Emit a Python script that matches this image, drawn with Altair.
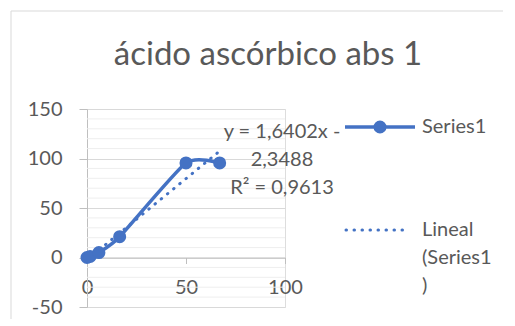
import altair as alt
import pandas as pd

# ---- data ----
x_vals = [0, 1.56, 6.0, 16.5, 50, 67]
y_vals = [0, 1, 5, 21, 95.5, 95.5]
series_name = "Series1"
trend_name = "Lineal (Series1 )"
slope = 1.6402
intercept = -2.3488
r2 = 0.9613
x_ticks = [0, 50, 100]
y_ticks = [-50, 0, 50, 100, 150]
minor_grid = [v for v in range(-40, 150, 10) if v % 50 != 0]
title_text = "ácido ascórbico abs 1"
eq_lines = ["y = 1,6402x -", "2,3488", "R² = 0,9613"]
trend_lines = ["Lineal", "(Series1", ")"]

FONT = "Lato"
BLUE = "#4472C4"
TXT = "#595959"

pts = pd.DataFrame({"x": x_vals, "y": y_vals})
xmin, xmax = min(x_vals), max(x_vals)
trend = pd.DataFrame({"x": [xmin, xmax],
                      "y": [slope * xmin + intercept, slope * xmax + intercept]})
minor = pd.DataFrame({"v": minor_grid})

W, H = 198, 198
xs = alt.Scale(domain=[0, 100], nice=False, zero=False)
ys = alt.Scale(domain=[-50, 150], nice=False, zero=False)

xaxis = alt.Axis(values=x_ticks, offset=-49.5, grid=False, domainColor="#bfbfbf",
                 tickColor="#bfbfbf", tickSize=6, labelPadding=14, labelFontSize=20,
                 labelFont=FONT, labelColor=TXT, title=None, labelFlush=False,
                 labelExpr="'' + datum.value")
yaxis = alt.Axis(values=y_ticks, grid=True, gridColor="#d9d9d9", domainColor="#bfbfbf",
                 tickColor="#bfbfbf", tickSize=8, labelPadding=17, labelFontSize=20,
                 labelFont=FONT, labelColor=TXT, title=None,
                 labelExpr="'' + datum.value")

border = alt.Chart(pd.DataFrame({"a": [0]})).mark_rect(
    fill=None, stroke="#d9d9d9", strokeWidth=1
).encode(x=alt.value(-76), x2=alt.value(700), y=alt.value(-98), y2=alt.value(500))

title = alt.Chart(pd.DataFrame({"t": [title_text]})).mark_text(
    font=FONT, fontSize=33, color=TXT, align="center", baseline="middle"
).encode(x=alt.value(181), y=alt.value(-54), text="t:N")

minor_rules = alt.Chart(minor).mark_rule(color="#eeeeee", strokeWidth=1).encode(
    y=alt.Y("v:Q", scale=ys, axis=yaxis)
)

trend_line = alt.Chart(trend).mark_line(
    color=BLUE, strokeWidth=3, strokeDash=[0.5, 7.5], strokeCap="round"
).encode(x=alt.X("x:Q", scale=xs, axis=xaxis), y=alt.Y("y:Q", scale=ys, axis=yaxis))

series_line = alt.Chart(pts).mark_line(
    color=BLUE, strokeWidth=3.5, interpolate="cardinal", tension=0.4
).encode(x=alt.X("x:Q", scale=xs, axis=xaxis), y=alt.Y("y:Q", scale=ys, axis=yaxis))

series_pts = alt.Chart(pts).mark_circle(color=BLUE, size=170, opacity=1).encode(
    x=alt.X("x:Q", scale=xs, axis=xaxis), y=alt.Y("y:Q", scale=ys, axis=yaxis)
)

eq = alt.Chart(pd.DataFrame({"t": ["\n".join(eq_lines)]})).mark_text(
    font=FONT, fontSize=20, color=TXT, align="center", baseline="middle",
    lineBreak="\n", lineHeight=28
).encode(x=alt.value(195), y=alt.value(23), text="t:N")

# legend
one = pd.DataFrame({"a": [0]})
leg_line1 = alt.Chart(one).mark_rule(color=BLUE, strokeWidth=3.5).encode(
    x=alt.value(258), x2=alt.value(328), y=alt.value(18))
leg_pt1 = alt.Chart(one).mark_circle(color=BLUE, size=170, opacity=1).encode(
    x=alt.value(293), y=alt.value(18))
leg_txt1 = alt.Chart(pd.DataFrame({"t": [series_name]})).mark_text(
    font=FONT, fontSize=20, color=TXT, align="left", baseline="middle"
).encode(x=alt.value(335), y=alt.value(18), text="t:N")
leg_line2 = alt.Chart(one).mark_rule(
    color=BLUE, strokeWidth=3, strokeDash=[0.5, 7.5], strokeCap="round").encode(
    x=alt.value(259), x2=alt.value(323), y=alt.value(121))
leg_txt2 = alt.Chart(pd.DataFrame({"t": ["\n".join(trend_lines)]})).mark_text(
    font=FONT, fontSize=20, color=TXT, align="left", baseline="middle",
    lineBreak="\n", lineHeight=28
).encode(x=alt.value(335), y=alt.value(121), text="t:N")

chart = alt.layer(
    border, title, minor_rules, trend_line, series_line, series_pts, eq,
    leg_line1, leg_pt1, leg_txt1, leg_line2, leg_txt2
).properties(
    width=W, height=H,
    autosize=alt.AutoSizeParams(type="none"),
    padding={"left": 79, "top": 101, "right": 218, "bottom": 12},
).configure_view(stroke=None).configure(background="white")

chart.save("out.html", embed_options={"renderer": "svg", "actions": False})
